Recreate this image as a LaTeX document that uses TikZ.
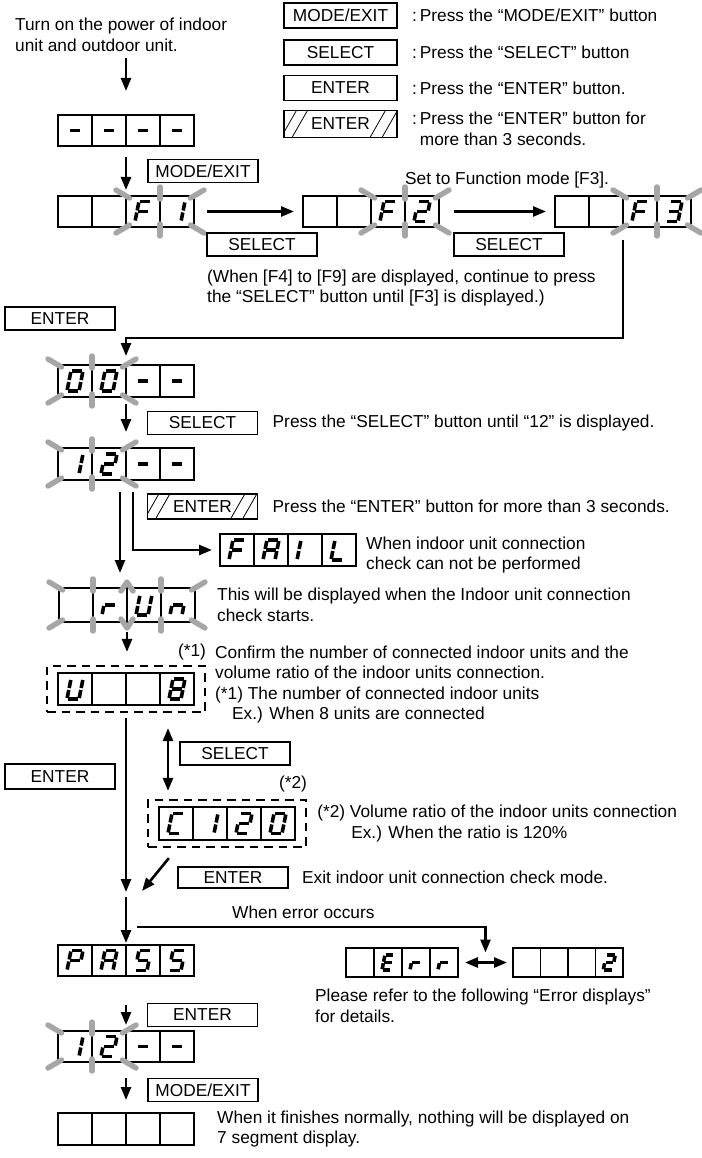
\documentclass[tikz,border=0pt]{standalone}
\usepackage{fontspec}
\setmainfont{Liberation Sans}
\usetikzlibrary{arrows.meta, positioning, calc, fit}

\definecolor{raygray}{RGB}{166,166,166}

% 7-segment pieces (local units, y pointing down)
\newcommand{\sgA}{\draw[segline] (-5,-10) -- (5,-10);}
\newcommand{\sgB}{\draw[segline] (6,-9) -- (6,-1);}
\newcommand{\sgC}{\draw[segline] (6,1) -- (6,9);}
\newcommand{\sgD}{\draw[segline] (-5,10) -- (5,10);}
\newcommand{\sgE}{\draw[segline] (-6,1) -- (-6,9);}
\newcommand{\sgF}{\draw[segline] (-6,-9) -- (-6,-1);}
\newcommand{\sgG}{\draw[segline] (-5,0) -- (5,0);}

% glyphs
\expandafter\def\csname glyx\endcsname{}
\expandafter\def\csname gly-\endcsname{\sgG}
\expandafter\def\csname gly0\endcsname{\sgA\sgB\sgC\sgD\sgE\sgF}
\expandafter\def\csname gly1\endcsname{\sgB\sgC}
\expandafter\def\csname gly2\endcsname{\sgA\sgB\sgG\sgE\sgD}
\expandafter\def\csname gly3\endcsname{\sgA\sgB\sgG\sgC\sgD}
\expandafter\def\csname gly8\endcsname{\sgA\sgB\sgC\sgD\sgE\sgF\sgG}
\expandafter\def\csname glyA\endcsname{\sgA\sgB\sgC\sgE\sgF\sgG}
\expandafter\def\csname glyC\endcsname{\sgA\sgD\sgE\sgF}
\expandafter\def\csname glyE\endcsname{\sgA\sgD\sgE\sgF\sgG}
\expandafter\def\csname glyF\endcsname{\sgA\sgE\sgF\sgG}
\expandafter\def\csname glyI\endcsname{\sgE\sgF}
\expandafter\def\csname glyL\endcsname{\sgD\sgE\sgF}
\expandafter\def\csname glyP\endcsname{\sgA\sgB\sgE\sgF\sgG}
\expandafter\def\csname glyS\endcsname{\sgA\sgF\sgG\sgC\sgD}
\expandafter\def\csname glyU\endcsname{\sgB\sgC\sgD\sgE\sgF}
\expandafter\def\csname glyr\endcsname{\sgE\sgG}
\expandafter\def\csname glyn\endcsname{\sgC\sgE\sgG}

\newcommand{\segglyph}[3]{% position, scale, glyph
  \begin{scope}[shift={#1}, xslant=0.2, scale=#2]
    \csname gly#3\endcsname
  \end{scope}}

% name, top-left corner, cell width, cell height, glyph scale, glyphs
\newcommand{\segpanel}[6]{%
  \node[panel, minimum width=4*#3, minimum height=#4, anchor=north west] (#1) at (#2) {};
  \foreach \idx in {1,2,3}
    \draw[cellline] ([xshift=\idx*#3]#1.north west) -- ([xshift=\idx*#3]#1.south west);
  \foreach \g [count=\idx] in {#6}
    \segglyph{([xshift=\idx*#3-0.5*#3]#1.west)}{#5}{\g};
}

% blink rays: panel, cell width, boundary, kind
\newcommand{\rays}[4]{%
  \coordinate (rt) at ([xshift=#3*#2]#1.north west);
  \coordinate (rb) at ([xshift=#3*#2]#1.south west);
  \csname ray#4\endcsname}
\newcommand{\rayL}{\draw[ray] ([shift={(3.5,2)}]rt) -- ++(-13.5,-8);
  \draw[ray] ([shift={(3.5,-2)}]rb) -- ++(-13.5,8);}
\newcommand{\rayR}{\draw[ray] ([shift={(-3.5,2)}]rt) -- ++(13.5,-8);
  \draw[ray] ([shift={(-3.5,-2)}]rb) -- ++(13.5,8);}
\newcommand{\rayM}{\draw[ray] ([shift={(0,3)}]rt) -- ++(0,-12);
  \draw[ray] ([shift={(0,-3)}]rb) -- ++(0,12);}
\newcommand{\rayV}{\draw[ray] ([shift={(-6,3)}]rt) -- ++(6,-9) -- ++(6,9);
  \draw[ray] ([shift={(-6,-3)}]rb) -- ++(6,9) -- ++(6,-9);}

\begin{document}
\begin{tikzpicture}[
    x=1pt, y=-1pt,
    font=\fontsize{17.3}{20.5}\selectfont,
    panel/.style={draw, line width=1.1pt, inner sep=0pt, outer sep=0pt},
    cellline/.style={line width=1.1pt},
    segline/.style={line width=3.6pt},
    ray/.style={line width=5.4pt, draw=raygray, line cap=round, line join=round},
    btn/.style={draw, line width=1.5pt, minimum width=110pt, minimum height=23pt, inner sep=0pt, outer sep=0pt},
    legbtn/.style={btn, minimum width=113pt, minimum height=25pt},
    hatch/.style={path picture={
        \draw[line width=0.8pt]
          ([xshift=-3pt]path picture bounding box.south west) -- ++(16,-28)
          ([xshift=8pt]path picture bounding box.south west) -- ++(16,-28)
          ([xshift=-27pt]path picture bounding box.south east) -- ++(16,-28)
          ([xshift=-15pt]path picture bounding box.south east) -- ++(16,-28);}},
    note/.style={align=left, inner sep=0pt, anchor=west},
    dashbox/.style={draw, line width=2.2pt, dash pattern=on 8.5pt off 6pt, inner sep=0pt},
    arrow/.style={line width=2.6pt, -{Triangle[length=13pt, width=10pt]}},
    dblarrow/.style={line width=2.6pt, {Triangle[length=13pt, width=10pt]}-{Triangle[length=13pt, width=10pt]}}
]
\useasboundingbox (0,0) rectangle (701,1158);

% Legend
\node[legbtn] (lgmode) at (340.5,15.5) {MODE/EXIT};
\node[legbtn, below=12pt of lgmode] (lgsel) {SELECT};
\node[legbtn, below=10.5pt of lgsel] (lgent) {ENTER};
\node[legbtn, hatch, below=10pt of lgent, minimum height=27pt] (lghold) {ENTER};
\node[note, right=15pt of lgmode] (lgmodetxt) {:\,Press the “MODE/EXIT” button};
\node[note, right=15pt of lgsel] (lgseltxt) {:\,Press the “SELECT” button};
\node[note, right=15pt of lgent] (lgenttxt) {:\,Press the “ENTER” button.};
\node[note, right=15pt of lghold, yshift=-5pt] (lgholdtxt) {:\,Press the “ENTER” button for\\\hphantom{:\,}more than 3 seconds.};

% Function mode selection
\node[note] (intro) at (15,35) {Turn on the power of indoor\\unit and outdoor unit.};
\segpanel{d0}{58,115}{34}{31}{1}{-,-,-,-}
\segpanel{f1}{58,196}{34}{31}{1}{x,x,F,1}
\segpanel{f2}{303,196}{34}{31}{1}{x,x,F,2}
\segpanel{f3}{555,196}{34}{31}{1}{x,x,F,3}
\foreach \idx/\kind in {2/L,3/M,4/R} {
  \rays{f1}{34}{\idx}{\kind}
  \rays{f2}{34}{\idx}{\kind}
  \rays{f3}{34}{\idx}{\kind}
}
\node[btn] (mode1) at (203,171) {MODE/EXIT};
\node[btn] (selA) at (262,244.5) {SELECT};
\node[btn, right=137pt of selA] (selB) {SELECT};
\node[note] (setF3) at (405,180) {Set to Function mode [F3].};
\node[note] (whenF) at (207,288) {(When [F4] to [F9] are displayed, continue to press\\the “SELECT” button until [F3] is displayed.)};
\node[btn] (entC) at (60,318.5) {ENTER};

% Connection check
\segpanel{s00}{58,365}{34}{32}{1}{0,0,-,-}
\segpanel{s12}{58,448}{34}{32}{1}{1,2,-,-}
\segpanel{fail}{220,534}{34}{32}{1}{F,A,I,L}
\segpanel{run}{59,588}{34}{34}{1}{x,r,U,n}
\foreach \idx/\kind in {0/L,1/M,2/R} {
  \rays{s00}{34}{\idx}{\kind}
  \rays{s12}{34}{\idx}{\kind}
}
\foreach \idx/\kind in {0/L,1/M,2/V,3/M,4/R}
  \rays{run}{34}{\idx}{\kind};
\node[btn] (selD) at (202.5,423) {SELECT};
\node[btn, hatch, minimum height=25pt] (holdE) at (202.5,506.5) {ENTER};
\node[note, right=15pt of selD] (selDtxt) {Press the “SELECT” button until “12” is displayed.};
\node[note, right=15pt of holdE] (holdEtxt) {Press the “ENTER” button for more than 3 seconds.};
\node[note, right=10pt of fail, yshift=-5pt] (failtxt) {When indoor unit connection\\check can not be performed};
\node[note, right=22pt of run] (runtxt) {This will be displayed when the Indoor unit connection\\check starts.};

% Units and ratio
\segpanel{u8}{58,673}{34}{32}{1}{U,x,x,8}
\segpanel{c120}{159,807}{34}{33}{1}{C,1,2,0}
\node[dashbox, fit=(u8), inner xsep=11pt, inner ysep=7pt] (u8box) {};
\node[dashbox, fit=(c120), inner xsep=11pt, inner ysep=7pt] (c120box) {};
\node[note, anchor=east] (ast1) at ([yshift=13pt]u8box.north east) {(*1)};
\node[note, anchor=east] (ast2) at ([yshift=15pt]c120box.north east) {(*2)};
\node[note] (confirm) at (215,662.5) {Confirm the number of connected indoor units and the\\volume ratio of the indoor units connection.};
\node[note] (unitstxt) at (215,705) {(*1) The number of connected indoor units\\\hspace*{17pt}Ex.) When 8 units are connected};
\node[note, right=10pt of c120box] (ratiotxt) {(*2) Volume ratio of the indoor units connection\\\hspace*{34pt}Ex.) When the ratio is 120\%};
\node[btn] (selF) at (235,753.5) {SELECT};
\node[btn, minimum height=25pt] (entG) at (60,776.5) {ENTER};
\node[btn, minimum height=21pt] (entH) at (233,877.5) {ENTER};
\node[note, right=14pt of entH] (exittxt) {Exit indoor unit connection check mode.};

% Result
\segpanel{pass}{58,945}{34}{31}{1}{P,A,S,S}
\segpanel{err}{346,948}{28}{29}{0.75}{x,E,r,r}
\segpanel{two}{513,948}{27.5}{29}{0.75}{x,x,x,2}
\segpanel{s12b}{58,1031}{34}{31}{1}{1,2,-,-}
\segpanel{endp}{58,1113}{34}{32}{1}{x,x,x,x}
\foreach \idx/\kind in {0/L,1/M,2/R}
  \rays{s12b}{34}{\idx}{\kind};
\node[note] (errtxt) at (232,912) {When error occurs};
\node[note] (refer) at (315,1006) {Please refer to the following “Error displays”\\for details.};
\node[btn] (entI) at (202.5,1015) {ENTER};
\node[btn] (modeJ) at (203,1090) {MODE/EXIT};
\node[note, right=23pt of endp] (endtxt) {When it finishes normally, nothing will be displayed on\\7 segment display.};

% Arrows
\coordinate (s12dn) at ([xshift=-6pt, yshift=-12pt]s12.south);
\coordinate (s12fl) at ([xshift=7pt, yshift=-12pt]s12.south);
\coordinate (join) at ([yshift=50pt]pass.north);
\coordinate (exitfrom) at ([xshift=22pt, yshift=-10pt]c120box.south west);
\coordinate (errfork) at ([xshift=11pt, yshift=18pt]pass.north);
\coordinate (errmid) at ($(err.east)!0.5!(two.west)$);

\draw[arrow, shorten <=6pt, shorten >=24pt] (intro.south -| d0.north) -- (d0.north);
\draw[arrow, shorten <=11pt, shorten >=6pt] (d0.south) -- (f1.north);
\draw[arrow, shorten <=13pt, shorten >=9pt] (f1.east) -- (f2.west);
\draw[arrow, shorten <=15pt, shorten >=9pt] (f2.east) -- (f3.west);
\draw[arrow, shorten >=9pt] ([yshift=-13pt]f3.south) |- ([yshift=27pt]s00.north) -- (s00.north);
\draw[arrow, shorten <=7pt, shorten >=16pt] (s00.south) -- (s12.north);
\draw[arrow, shorten >=15pt] (s12dn) -- (s12dn |- run.north);
\draw[arrow, shorten >=8pt] (s12fl) |- (fail.west);
\draw[arrow, shorten <=10pt, shorten >=13pt] (run.south) -- (run.south |- u8box.north);
\draw[dblarrow, shorten <=15pt, shorten >=8pt] ([xshift=42pt]u8box.south) -- ([xshift=42pt]u8box.south |- c120box.north);
\draw[arrow, shorten <=5pt, shorten >=3pt] (u8box.south) -- (u8box.south |- join);
\draw[arrow] (exitfrom) -- ([xshift=16pt, yshift=4pt]join);
\draw[arrow, shorten <=2pt, shorten >=2pt] (join) -- (pass.north);
\draw[arrow] (errfork) -| ([yshift=10pt]errmid);
\draw[dblarrow, shorten <=7pt, shorten >=6pt] (err.east) -- (two.west);
\draw[arrow, shorten <=29pt, shorten >=6pt] (pass.south) -- (s12b.north);
\draw[arrow, shorten <=16pt, shorten >=13pt] (s12b.south) -- (endp.north);

\end{tikzpicture}
\end{document}
